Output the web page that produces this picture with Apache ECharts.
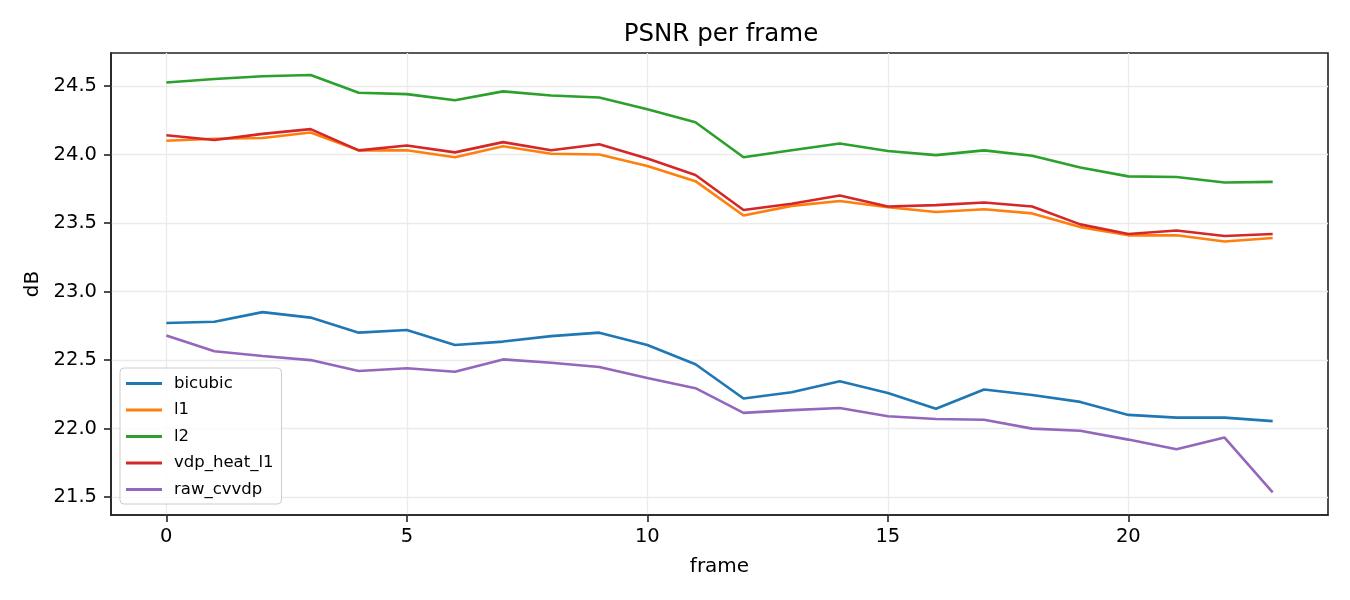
<!DOCTYPE html>
<html>
<head>
<meta charset="utf-8">
<script src="https://cdn.jsdelivr.net/npm/echarts@6/dist/echarts.min.js"></script>
<style>html,body{margin:0;padding:0;background:#fff}#c{width:1350px;height:600px}</style>
</head>
<body>
<div id="c"></div>
<script>
const frames = [0,1,2,3,4,5,6,7,8,9,10,11,12,13,14,15,16,17,18,19,20,21,22,23];
const bicubic = [22.77,22.78,22.85,22.81,22.70,22.72,22.61,22.635,22.675,22.70,22.61,22.47,22.22,22.265,22.345,22.26,22.145,22.285,22.245,22.195,22.10,22.08,22.08,22.055];
const l1 = [24.10,24.115,24.12,24.16,24.03,24.03,23.98,24.06,24.005,24.0,23.915,23.805,23.555,23.625,23.66,23.615,23.58,23.60,23.57,23.47,23.41,23.41,23.365,23.39];
const l2 = [24.525,24.55,24.57,24.58,24.45,24.44,24.395,24.46,24.43,24.415,24.33,24.235,23.98,24.03,24.08,24.025,23.995,24.03,23.99,23.905,23.84,23.835,23.795,23.80];
const vdp_heat_l1 = [24.14,24.105,24.15,24.185,24.03,24.065,24.015,24.09,24.03,24.075,23.97,23.85,23.595,23.64,23.70,23.62,23.63,23.65,23.62,23.49,23.42,23.445,23.405,23.42];
const raw_cvvdp = [22.68,22.565,22.53,22.50,22.42,22.44,22.415,22.505,22.48,22.45,22.37,22.295,22.115,22.135,22.15,22.09,22.07,22.065,22.0,21.985,21.92,21.85,21.935,21.535];
const xTicks = [0,5,10,15,20];
const yTicks = [21.5,22.0,22.5,23.0,23.5,24.0,24.5];

const seriesDefs = [
  ['bicubic', bicubic, '#1f77b4'],
  ['l1', l1, '#ff7f0e'],
  ['l2', l2, '#2ca02c'],
  ['vdp_heat_l1', vdp_heat_l1, '#d62728'],
  ['raw_cvvdp', raw_cvvdp, '#9467bd']
];
const FF = 'DejaVu Sans';
const chart = echarts.init(document.getElementById('c'), null, {renderer:'canvas'});
chart.setOption({
  animation: false,
  backgroundColor: '#fff',
  title: {text:'PSNR per frame', left:716, textAlign:'center', top:17, textStyle:{fontFamily:FF, fontSize:24.5, fontWeight:'normal', color:'#000'}},
  grid: {left:111, right:22, top:53, bottom:85, show:true, borderColor:'#222', borderWidth:1.6, backgroundColor:'transparent'},
  legend: {
    orient:'vertical', left:120, top:368, padding:[7,8,6,6],
    itemWidth:36, itemHeight:3, itemGap:9.5, icon:'rect',
    backgroundColor:'rgba(255,255,255,0.8)', borderColor:'#cccccc', borderWidth:1, borderRadius:4,
    textStyle:{fontFamily:FF, fontSize:16.5, color:'#000', lineHeight:17, padding:[0,0,0,7]},
    data: seriesDefs.map(s=>s[0])
  },
  xAxis: {
    type:'value', min:-1.15, max:24.15, position:'bottom',
    name:'frame', nameLocation:'middle', nameGap:42,
    nameTextStyle:{fontFamily:FF, fontSize:20, color:'#000'},
    axisLine:{show:true, onZero:false, lineStyle:{color:'#222', width:1.6}},
    axisTick:{show:true, inside:false, length:7, lineStyle:{color:'#222', width:1.6}, customValues:xTicks},
    axisLabel:{fontFamily:FF, fontSize:19.5, color:'#000', margin:12, customValues:xTicks, formatter:v=>String(v)},
    splitLine:{show:true, lineStyle:{color:'#ebebeb', width:1.3}, customValues:xTicks}
  },
  yAxis: {
    type:'value', min:21.37, max:24.74, position:'left',
    name:'dB', nameLocation:'middle', nameGap:68, nameRotate:90,
    nameTextStyle:{fontFamily:FF, fontSize:20, color:'#000'},
    axisLine:{show:true, onZero:false, lineStyle:{color:'#222', width:1.6}},
    axisTick:{show:true, inside:false, length:7, lineStyle:{color:'#222', width:1.6}, customValues:yTicks},
    axisLabel:{fontFamily:FF, fontSize:19.5, color:'#000', margin:14, customValues:yTicks, formatter:v=>v.toFixed(1)},
    splitLine:{show:true, lineStyle:{color:'#ebebeb', width:1.3}, customValues:yTicks}
  },
  series: seriesDefs.map(([name, vals, color]) => ({
    name, type:'line', showSymbol:false, symbol:'none',
    data: frames.map((f,i)=>[f, vals[i]]),
    lineStyle:{color, width:2.6}, itemStyle:{color},
    emphasis:{disabled:true}
  }))
});
</script>
</body>
</html>
